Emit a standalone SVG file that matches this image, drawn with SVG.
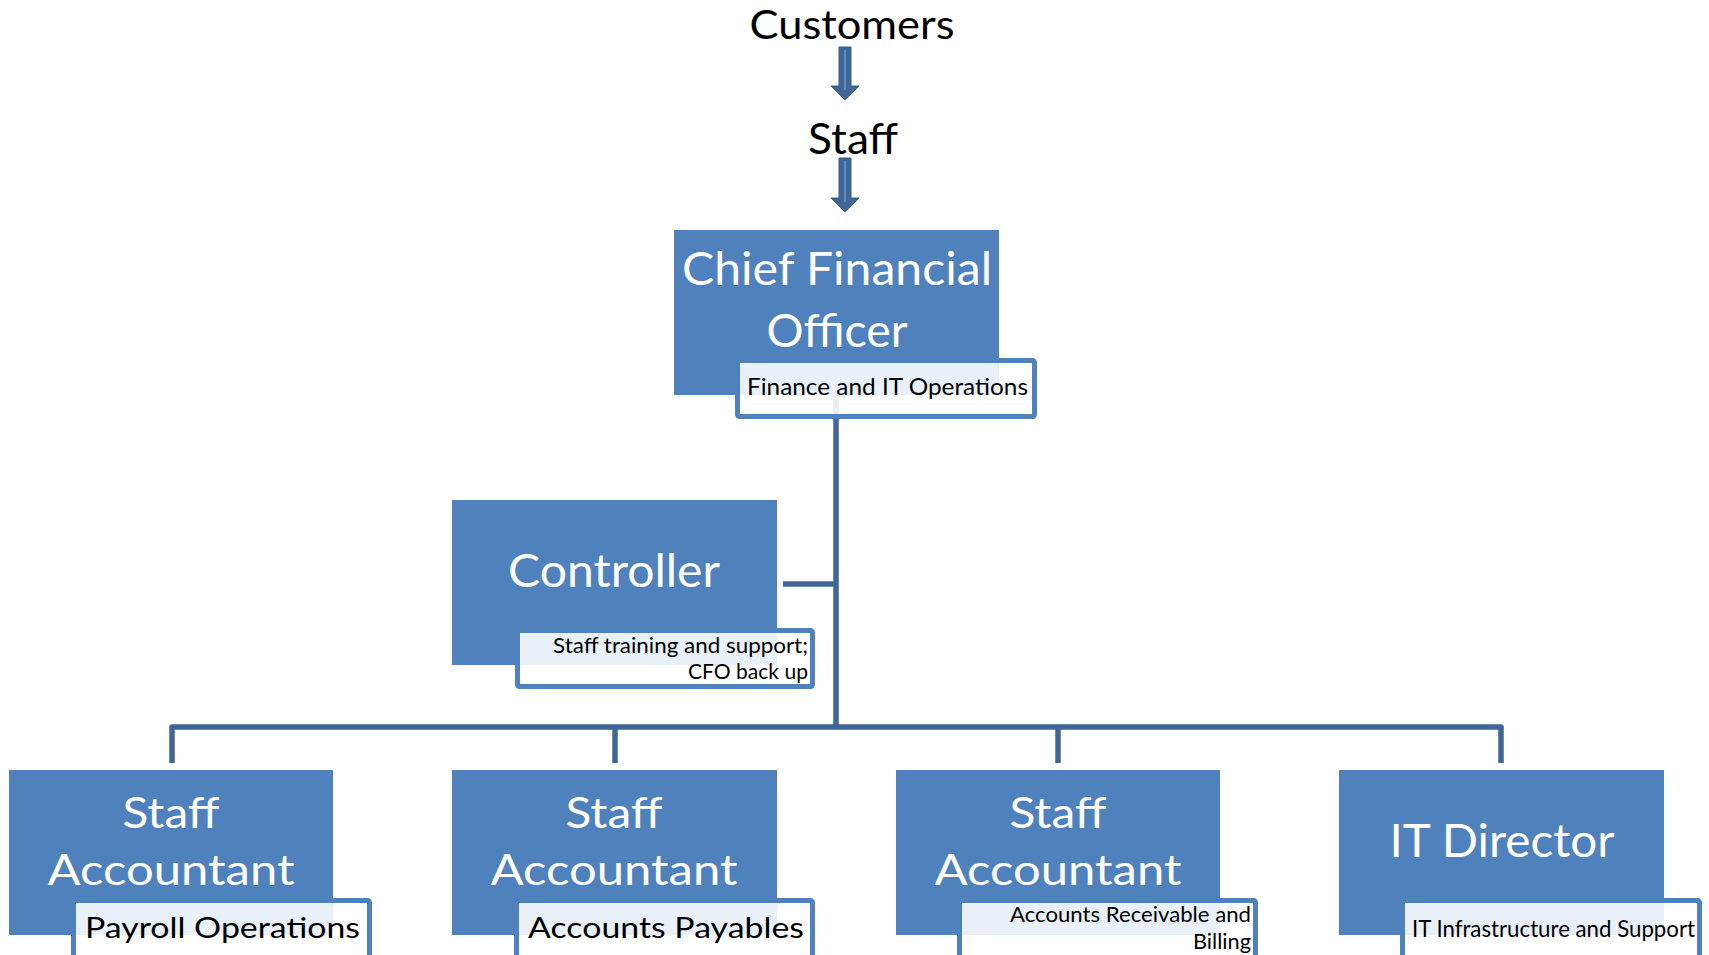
<svg xmlns="http://www.w3.org/2000/svg" width="1709" height="955" viewBox="0 0 1709 955">
<style>
.box{fill:#4F81BD}
.sub{fill:#FFFFFF;fill-opacity:0.88;stroke:#4F81BD;stroke-width:5}
.conn{fill:none;stroke:#3E6797;stroke-width:5.5;stroke-linejoin:round}
.big{font-family:Lato,"Liberation Sans",sans-serif;fill:#FFFFFF;text-anchor:middle}
.lbl{font-family:Lato,"Liberation Sans",sans-serif;fill:#000000}
.arrow{fill:#3F6797;stroke:#385D8A;stroke-width:1}
.stripe{stroke:#5B8AC6;stroke-width:2}
</style>
<rect width="1709" height="955" fill="#FFFFFF"/>
<g id="customers">
<text class="lbl" x="852" y="39" font-size="41" text-anchor="middle" textLength="205" lengthAdjust="spacingAndGlyphs">Customers</text>
</g>
<g id="staff">
<text class="lbl" x="853" y="154" font-size="43" text-anchor="middle" textLength="90" lengthAdjust="spacingAndGlyphs">Staff</text>
</g>
<g id="arrows">
<path class="arrow" d="M839 47 H851 V86 H859 L845 100 L831 86 H839 Z"/>
<line class="stripe" x1="845" y1="50" x2="845" y2="90"/>
<path class="arrow" d="M839 158 H851 V198 H859 L845 212 L831 198 H839 Z"/>
<line class="stripe" x1="845" y1="161" x2="845" y2="202"/>
</g>
<g id="connectors">
<path class="conn" d="M836 395 V727"/>
<path class="conn" d="M783 584 H836"/>
<path class="conn" d="M172 763 V727 H1501 V763"/>
<path class="conn" d="M615 727 V763"/>
<path class="conn" d="M1058 727 V763"/>
</g>
<g id="cfo">
<rect class="box" x="674" y="230" width="325" height="165"/>
<text class="big" x="837" y="285" font-size="46" textLength="310" lengthAdjust="spacingAndGlyphs">Chief Financial</text>
<text class="big" x="837" y="347" font-size="46" textLength="141" lengthAdjust="spacingAndGlyphs">Officer</text>
<rect class="sub" x="737.5" y="360.5" width="297" height="56" rx="2"/>
<text class="lbl" x="747" y="395" font-size="23" textLength="281" lengthAdjust="spacingAndGlyphs">Finance and IT Operations</text>
</g>
<g id="controller">
<rect class="box" x="452" y="500" width="325" height="165"/>
<text class="big" x="614" y="587" font-size="47" textLength="212" lengthAdjust="spacingAndGlyphs">Controller</text>
<rect class="sub" x="517.5" y="630.5" width="295" height="56" rx="2"/>
<text class="lbl" x="808" y="653" font-size="22" text-anchor="end" textLength="255" lengthAdjust="spacingAndGlyphs">Staff training and support;</text>
<text class="lbl" x="808" y="679" font-size="22" text-anchor="end" textLength="120" lengthAdjust="spacingAndGlyphs">CFO back up</text>
</g>
<g id="staff-accountant-1">
<rect class="box" x="9" y="770" width="324" height="165"/>
<text class="big" x="171" y="828" font-size="43" textLength="97" lengthAdjust="spacingAndGlyphs">Staff</text>
<text class="big" x="171" y="885" font-size="43" textLength="247" lengthAdjust="spacingAndGlyphs">Accountant</text>
<rect class="sub" x="73.5" y="900.5" width="296" height="80" rx="2"/>
<text class="lbl" x="85" y="938" font-size="29" textLength="275" lengthAdjust="spacingAndGlyphs">Payroll Operations</text>
</g>
<g id="staff-accountant-2">
<rect class="box" x="452" y="770" width="325" height="165"/>
<text class="big" x="614" y="828" font-size="43" textLength="97" lengthAdjust="spacingAndGlyphs">Staff</text>
<text class="big" x="614" y="885" font-size="43" textLength="247" lengthAdjust="spacingAndGlyphs">Accountant</text>
<rect class="sub" x="516.5" y="900.5" width="296" height="80" rx="2"/>
<text class="lbl" x="528" y="938" font-size="29" textLength="276" lengthAdjust="spacingAndGlyphs">Accounts Payables</text>
</g>
<g id="staff-accountant-3">
<rect class="box" x="896" y="770" width="324" height="165"/>
<text class="big" x="1058" y="828" font-size="43" textLength="97" lengthAdjust="spacingAndGlyphs">Staff</text>
<text class="big" x="1058" y="885" font-size="43" textLength="247" lengthAdjust="spacingAndGlyphs">Accountant</text>
<rect class="sub" x="959.5" y="900.5" width="296" height="80" rx="2"/>
<text class="lbl" x="1251" y="922" font-size="22" text-anchor="end" textLength="241" lengthAdjust="spacingAndGlyphs">Accounts Receivable and</text>
<text class="lbl" x="1251" y="949" font-size="22" text-anchor="end" textLength="58" lengthAdjust="spacingAndGlyphs">Billing</text>
</g>
<g id="it-director">
<rect class="box" x="1339" y="770" width="325" height="165"/>
<text class="big" x="1502" y="857" font-size="47" textLength="225" lengthAdjust="spacingAndGlyphs">IT Director</text>
<rect class="sub" x="1402.5" y="900.5" width="297" height="80" rx="2"/>
<text class="lbl" x="1412" y="937" font-size="23" textLength="283" lengthAdjust="spacingAndGlyphs">IT Infrastructure and Support</text>
</g>
</svg>
